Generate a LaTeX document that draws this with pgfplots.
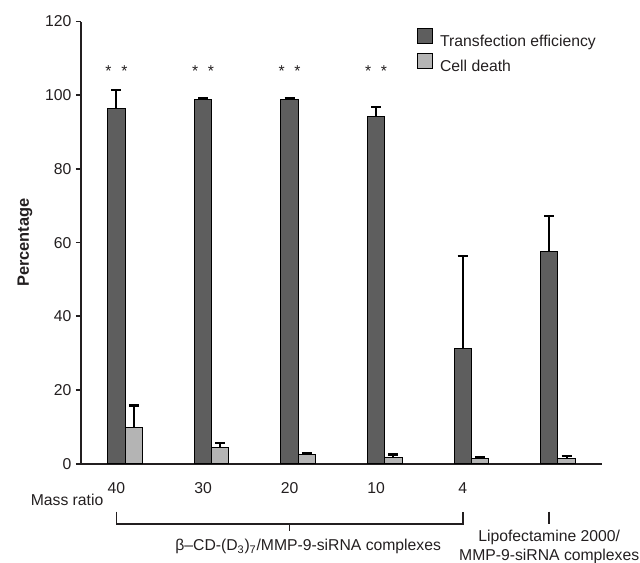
\documentclass[border=0pt]{standalone}
\usepackage{fontspec}
\setmainfont{Liberation Sans}
\usepackage{pgfplots}
\usepackage{pgfplotstable}
\pgfplotsset{compat=1.18}
\definecolor{darkbar}{RGB}{94,94,94}
\definecolor{lightbar}{RGB}{180,180,180}
\definecolor{ink}{RGB}{35,31,32}

% transfection efficiency: x, value, upper error
\pgfplotstableread{
x    y     e
-0.1 96.5  4.8
0.9  98.7  0.5
1.9  98.9  0.4
2.9  94.2  2.7
3.9  31.2  25.2
4.9  57.7  9.5
}\transfection
% cell death
\pgfplotstableread{
x    y    e
0.1  9.9  5.9
1.1  4.5  1.1
2.1  2.4  0.6
3.1  1.8  0.7
4.1  1.3  0.6
5.1  1.3  0.7
}\celldeath

\newcommand{\txt}{\fontsize{11.8}{14}\selectfont}

\begin{document}
\begin{tikzpicture}
\useasboundingbox (0pt,0pt) rectangle (480pt,421.5pt);
\begin{axis}[
  at={(60.75pt,73.725pt)}, anchor=south west,
  scale only axis, width=390.75pt, height=331.65pt,
  xmin=-0.51, xmax=5.51, ymin=0, ymax=120,
  axis x line=bottom, axis y line=left,
  axis line style={-, line width=1.3pt, ink},
  ytick={0,20,...,120},
  xtick={-0.1,0.9,1.9,2.9,3.9}, xticklabels={40,30,20,10,4},
  x tick style={draw=none},
  y tick style={line width=1.3pt, ink},
  tick align=outside, major tick length=3.75pt,
  ticklabel style={font=\txt, text=ink},
  xticklabel style={yshift=-7pt},
  /pgf/number format/assume math mode=true,
  ylabel={Percentage},
  ylabel style={font=\bfseries\fontsize{12.3}{14}\selectfont, text=ink,
    at={(axis description cs:-0.1075,0.5)}, anchor=center},
  clip=false,
  bar width=0.2,
  legend image code/.code={\draw[#1] (0pt,-1.6pt) rectangle (11.25pt,9.65pt);},
  legend style={at={(rel axis cs:0.644,0.986)}, anchor=north west,
    draw=none, fill=none, inner sep=0pt, font=\txt, text=ink,
    nodes={inner sep=0pt}, row sep=3.9pt,
    /tikz/every odd column/.append style={column sep=5.5pt}},
  legend cell align=left,
]
\addlegendimage{fill=darkbar, draw=black, line width=0.75pt}
\addlegendentry{Transfection efficiency}
\addlegendimage{fill=lightbar, draw=black, line width=0.75pt}
\addlegendentry{Cell death}

\addplot[ybar, bar shift=0pt, fill=darkbar, draw=black, line width=0.75pt, forget plot,
  error bars/.cd, y dir=plus, y explicit,
  error bar style={line width=1.5pt, black},
  error mark options={rotate=90, mark size=3.75pt, line width=1.6pt, black}]
  table[x=x, y=y, y error=e] {\transfection};
\addplot[ybar, bar shift=0pt, fill=lightbar, draw=black, line width=0.75pt, forget plot,
  error bars/.cd, y dir=plus, y explicit,
  error bar style={line width=1.5pt, black},
  error mark options={rotate=90, mark size=3.75pt, line width=1.6pt, black}]
  table[x=x, y=y, y error=e] {\celldeath};

% significance marks
\node[font=\txt, text=ink] at (axis cs:-0.1,106.6) {*\hspace{7.3pt}*};
\node[font=\txt, text=ink] at (axis cs:0.9,106.6) {*\hspace{7.3pt}*};
\node[font=\txt, text=ink] at (axis cs:1.9,106.6) {*\hspace{7.3pt}*};
\node[font=\txt, text=ink] at (axis cs:2.9,106.6) {*\hspace{7.3pt}*};

% group annotations
\node[font=\txt, text=ink] at (axis cs:-0.671,-9.85) {Mass ratio};
\draw[ink, line width=1.3pt] (axis cs:-0.1,-13) -- (axis cs:-0.1,-16.4)
  -- (axis cs:3.9,-16.4) -- (axis cs:3.9,-13);
\draw[ink, line width=1.3pt] (axis cs:1.9,-16.4) -- (axis cs:1.9,-18.2);
\node[font=\txt, text=ink] at (axis cs:2.115,-22.5)
  {β–CD-(D\textsubscript{3})\textsubscript{7}/MMP-9-siRNA complexes};
\draw[ink, line width=1.6pt] (axis cs:4.9,-13) -- (axis cs:4.9,-16.4);
\node[font=\txt, text=ink, align=center] at (axis cs:4.9,-22.5)
  {Lipofectamine 2000/\\MMP-9-siRNA complexes};
\end{axis}
\end{tikzpicture}
\end{document}
